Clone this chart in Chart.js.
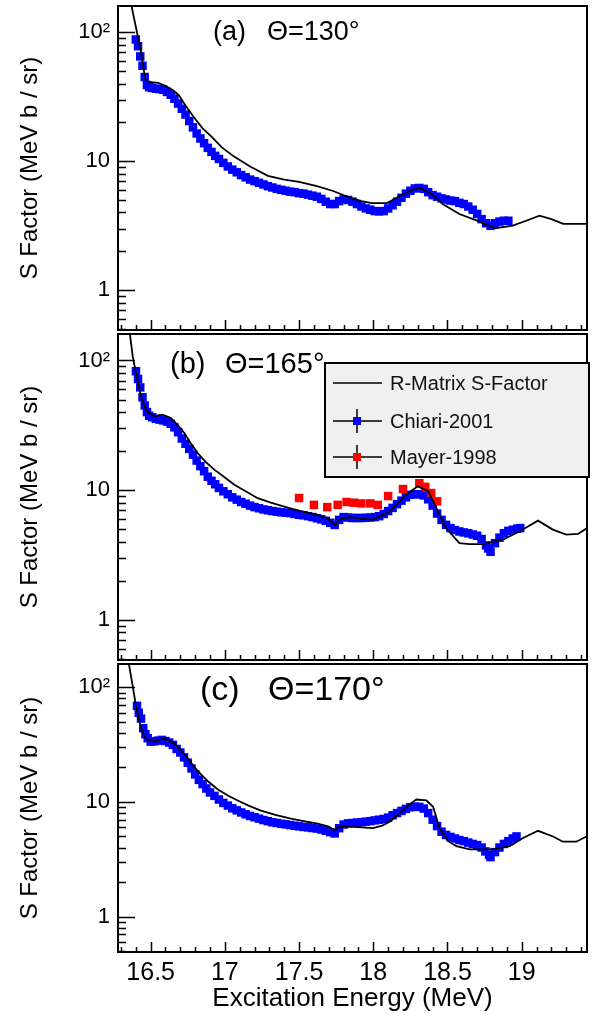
<!DOCTYPE html>
<html>
<head>
<meta charset="utf-8">
<script src="https://cdn.jsdelivr.net/npm/chart.js@4.4.1/dist/chart.umd.min.js"></script>
<style>
  body { margin: 0; background: #fff; width: 600px; height: 1020px; overflow: hidden; position: relative; }
  canvas { position: absolute; left: 0; }
  #pa { top: 0; }
  #pb { top: 328px; }
  #pc { top: 658px; }
</style>
</head>
<body>
<canvas id="pa" width="600" height="336"></canvas>
<canvas id="pb" width="600" height="338"></canvas>
<canvas id="pc" width="600" height="362"></canvas>
<script>
// axis ticks
const energyTicks = [16.5, 17, 17.5, 18, 18.5, 19];
const sTicks = [1, 10, 100];
const panelTags = ['(a)', '(b)', '(c)'];
const panelAngles = ['Θ=130°', 'Θ=165°', 'Θ=170°'];
const seriesNames = ['R-Matrix S-Factor', 'Chiari-2001', 'Mayer-1998'];

// [E (MeV), S (MeV b / sr)]
const rmatA = [[16.35,220],[16.372,158],[16.41,97],[16.435,71],[16.455,50],[16.468,42],[16.50,41],[16.55,40.5],
  [16.60,38.5],[16.65,35.5],[16.69,32.5],[16.73,27.5],[16.79,22],[16.85,18],[16.91,15.5],[16.98,12.8],[17.06,10.9],
  [17.17,9.1],[17.29,7.7],[17.40,7.2],[17.50,6.9],[17.62,6.4],[17.73,5.87],[17.84,5.22],[17.92,4.9],[17.99,4.72],
  [18.09,4.72],[18.18,5.37],[18.25,5.9],[18.31,6.24],[18.38,5.7],[18.47,4.64],[18.58,3.89],[18.70,3.46],[18.82,3.02],
  [18.94,3.16],[19.03,3.45],[19.12,3.78],[19.20,3.55],[19.28,3.26],[19.44,3.26]];
const chiariA = [[16.40,88],[16.415,78],[16.43,65],[16.445,55],[16.46,45],[16.475,39],[16.49,37.5],[16.51,37],
  [16.535,36.5],[16.56,36.3],[16.585,35.8],[16.61,34.5],[16.635,32.8],[16.66,30.5],[16.685,28],[16.71,25.5],
  [16.735,23],[16.76,20.5],[16.785,18.3],[16.81,16.4],[16.835,15],[16.86,13.8],[16.885,12.7],[16.91,11.8],
  [16.935,11.0],[16.96,10.4],[16.99,9.7],[17.02,9.1],[17.05,8.6],[17.08,8.2],[17.11,7.8],[17.14,7.5],[17.17,7.2],
  [17.20,7.0],[17.23,6.8],[17.26,6.6],[17.29,6.4],[17.32,6.25],[17.35,6.1],[17.38,6.0],[17.41,5.9],[17.44,5.8],
  [17.47,5.75],[17.50,5.65],[17.53,5.6],[17.56,5.5],[17.59,5.4],[17.62,5.3],[17.65,5.1],[17.68,4.85],[17.71,4.65],
  [17.74,4.65],[17.77,4.9],[17.80,5.05],[17.83,5.0],[17.86,4.85],[17.89,4.65],[17.92,4.45],[17.95,4.3],[17.98,4.2],
  [18.01,4.1],[18.04,4.08],[18.07,4.1],[18.10,4.3],[18.13,4.55],[18.16,4.85],[18.19,5.2],[18.22,5.6],[18.25,5.9],
  [18.28,6.15],[18.31,6.2],[18.34,6.1],[18.37,5.75],[18.40,5.45],[18.43,5.3],[18.46,5.15],[18.49,5.05],[18.52,4.95],
  [18.55,4.9],[18.58,4.75],[18.61,4.65],[18.64,4.45],[18.67,4.2],[18.70,3.9],[18.73,3.55],[18.76,3.3],[18.79,3.15],
  [18.82,3.3],[18.85,3.4],[18.88,3.45],[18.91,3.45]];

const rmatB = [[16.34,220],[16.356,174],[16.379,108],[16.401,80],[16.435,53],[16.46,44],[16.48,40],[16.525,37.1],
  [16.58,38.2],[16.637,36],[16.68,32],[16.727,27.6],[16.77,23],[16.817,19.3],[16.87,16.5],[16.929,14.4],[17.00,12.5],
  [17.064,11.0],[17.14,9.8],[17.221,8.67],[17.31,8.0],[17.40,7.47],[17.51,6.9],[17.625,6.44],[17.69,6.1],[17.715,5.71],
  [17.745,5.4],[17.77,5.9],[17.80,6.1],[17.85,6.2],[17.93,6.0],[18.00,5.93],[18.11,6.88],[18.223,9.27],[18.30,10.7],
  [18.37,9.8],[18.425,7.3],[18.49,5.1],[18.58,3.91],[18.65,3.84],[18.74,3.84],[18.874,4.15],[18.987,4.82],[19.11,5.82],
  [19.21,4.96],[19.30,4.54],[19.38,4.6],[19.44,5.1]];
const chiariB = [[16.401,82.6],[16.415,72],[16.43,62],[16.445,52],[16.46,45],[16.475,40],[16.49,37.5],[16.51,36.5],
  [16.535,35.5],[16.56,35],[16.585,34.5],[16.61,33.8],[16.635,32.5],[16.66,30.5],[16.685,28],[16.71,25],[16.735,22.8],
  [16.76,20.8],[16.785,18.8],[16.81,16.9],[16.835,15.3],[16.86,14],[16.885,12.7],[16.91,11.8],[16.935,11.1],
  [16.96,10.4],[16.99,9.8],[17.02,9.3],[17.05,8.8],[17.08,8.45],[17.11,8.1],[17.14,7.85],[17.17,7.6],[17.20,7.4],
  [17.23,7.25],[17.26,7.1],[17.29,7.0],[17.32,6.9],[17.35,6.82],[17.38,6.75],[17.41,6.7],[17.44,6.65],[17.47,6.55],
  [17.50,6.45],[17.53,6.4],[17.56,6.3],[17.59,6.2],[17.62,6.07],[17.65,5.95],[17.68,5.8],[17.71,5.6],[17.74,5.39],
  [17.77,5.9],[17.80,6.2],[17.83,6.15],[17.86,6.1],[17.89,6.1],[17.92,6.1],[17.95,6.12],[17.98,6.15],[18.01,6.2],
  [18.04,6.3],[18.07,6.55],[18.10,6.9],[18.13,7.3],[18.16,7.8],[18.19,8.3],[18.22,8.8],[18.25,9.2],[18.28,9.3],
  [18.31,9.3],[18.34,9.1],[18.37,8.5],[18.40,7.6],[18.43,6.6],[18.46,5.9],[18.49,5.4],[18.52,5.1],[18.55,4.92],
  [18.58,4.8],[18.61,4.72],[18.64,4.65],[18.67,4.55],[18.70,4.45],[18.73,4.2],[18.76,3.75],[18.775,3.55],[18.79,3.35],
  [18.82,3.9],[18.85,4.3],[18.88,4.65],[18.91,4.85],[18.94,4.95],[18.97,5.05],[18.99,5.1]];
const mayerB = [[17.50,8.7],[17.60,7.7],[17.69,7.4],[17.76,7.7],[17.82,8.1],[17.87,8.0],[17.92,7.9],[17.98,7.9],
  [18.03,7.7],[18.10,9.0],[18.20,10.2],[18.31,11.3],[18.35,10.6],[18.39,9.5],[18.43,8.2]];

const rmatC = [[16.34,220],[16.356,153],[16.379,103],[16.401,69],[16.435,43.8],[16.46,37],[16.48,34.8],[16.525,33.6],
  [16.592,35.9],[16.66,32.5],[16.70,28.5],[16.749,24.2],[16.79,20.5],[16.839,17.4],[16.89,15],[16.951,12.9],[17.02,11.4],
  [17.086,10.3],[17.16,9.3],[17.243,8.41],[17.34,7.7],[17.445,7.14],[17.53,6.8],[17.625,6.47],[17.70,6.1],[17.738,5.67],
  [17.771,6.1],[17.85,6.1],[17.92,6.0],[17.998,5.9],[18.06,6.2],[18.11,6.73],[18.17,7.8],[18.223,9.06],[18.29,10.5],
  [18.358,10.3],[18.403,9.06],[18.447,5.9],[18.50,4.6],[18.56,4.11],[18.65,3.85],[18.807,3.85],[18.919,4.11],
  [19.009,4.84],[19.11,5.6],[19.211,4.99],[19.278,4.5],[19.368,4.5],[19.436,5.0]];
const chiariC = [[16.408,69],[16.42,60],[16.435,53.4],[16.45,44],[16.465,39],[16.48,36],[16.50,33.6],[16.525,33.8],
  [16.55,34.3],[16.575,34.8],[16.60,34],[16.625,33],[16.65,31.5],[16.675,29],[16.70,27],[16.725,24.5],[16.75,22],
  [16.775,19.6],[16.80,17.4],[16.825,15.6],[16.85,14.3],[16.875,13.1],[16.90,12.1],[16.93,11.3],[16.96,10.5],
  [16.99,9.8],[17.02,9.3],[17.05,8.8],[17.08,8.45],[17.11,8.1],[17.14,7.8],[17.17,7.55],[17.20,7.35],[17.23,7.15],
  [17.26,6.95],[17.29,6.8],[17.32,6.65],[17.35,6.55],[17.38,6.45],[17.41,6.37],[17.44,6.28],[17.47,6.2],[17.50,6.12],
  [17.53,6.05],[17.56,6.0],[17.59,5.92],[17.62,5.86],[17.65,5.75],[17.68,5.6],[17.71,5.45],[17.74,5.31],[17.77,5.9],
  [17.80,6.35],[17.83,6.5],[17.86,6.55],[17.89,6.6],[17.92,6.65],[17.95,6.73],[17.98,6.8],[18.01,6.9],[18.04,7.0],
  [18.07,7.1],[18.10,7.3],[18.13,7.65],[18.16,8.0],[18.19,8.35],[18.22,8.7],[18.25,9.0],[18.28,9.1],[18.31,9.05],
  [18.34,8.75],[18.37,8.0],[18.40,7.0],[18.43,6.15],[18.46,5.5],[18.49,5.15],[18.52,4.95],[18.55,4.8],[18.58,4.65],
  [18.61,4.55],[18.64,4.42],[18.67,4.3],[18.70,4.2],[18.73,4.0],[18.755,3.7],[18.78,3.45],[18.79,3.3],[18.82,3.65],
  [18.85,4.0],[18.88,4.3],[18.91,4.55],[18.94,4.8],[18.965,5.0]];

const FONT = '"Liberation Sans", Arial, sans-serif';
const toXY = arr => arr.map(p => ({x: p[0], y: p[1]}));

// frame, inward ticks, panel tag and (optional) legend
const panelDeco = {
  id: 'panelDeco',
  afterDatasetsDraw(chart, args, opts) {
    const {ctx, chartArea: a, scales: {x, y}} = chart;
    ctx.save();
    ctx.strokeStyle = '#000';
    ctx.lineWidth = 1.5;
    ctx.beginPath();
    for (let d = -1; d <= 2; d++) {
      for (let m = 1; m <= 9; m++) {
        const v = m * Math.pow(10, d);
        if (v < y.min || v > y.max) continue;
        const py = Math.round(y.getPixelForValue(v)) + 0.5;
        ctx.moveTo(a.left, py);
        ctx.lineTo(a.left + (m === 1 ? 17 : 8), py);
      }
    }
    for (let k = Math.ceil(x.min * 10); k <= Math.floor(x.max * 10); k++) {
      const px = Math.round(x.getPixelForValue(k / 10)) + 0.5;
      ctx.moveTo(px, a.bottom);
      ctx.lineTo(px, a.bottom - (k % 5 === 0 ? 10 : 5));
    }
    ctx.stroke();
    ctx.lineWidth = 2;
    ctx.strokeRect(a.left, a.top, a.right - a.left, a.bottom - a.top);

    // panel tag
    ctx.fillStyle = '#000';
    ctx.textBaseline = 'middle';
    ctx.font = opts.tagSize + 'px ' + FONT;
    ctx.fillText(opts.tag, a.left + opts.tagX, a.top + opts.tagY);
    ctx.fillText(opts.angle, a.left + opts.angleX, a.top + opts.tagY);

    if (opts.legend) {
      const L = a.left + 207, T = a.top + 29, W = a.right + 2 - L, H = 114;
      ctx.fillStyle = '#f0f0f0';
      ctx.fillRect(L, T, W, H);
      ctx.lineWidth = 2;
      ctx.strokeRect(L, T, W, H);
      const rows = [20, 58, 94];
      const ds = chart.data.datasets;
      ctx.font = '20px ' + FONT;
      ds.forEach((d, i) => {
        const cy = T + rows[i];
        ctx.strokeStyle = '#000';
        ctx.lineWidth = 1.5;
        ctx.beginPath();
        ctx.moveTo(L + 8, cy); ctx.lineTo(L + 57, cy);
        if (i > 0) { ctx.moveTo(L + 32, cy - 12); ctx.lineTo(L + 32, cy + 12); }
        ctx.stroke();
        if (i > 0) {
          ctx.fillStyle = d.backgroundColor;
          ctx.fillRect(L + 28, cy - 4, 8, 8);
        }
        ctx.fillStyle = '#111';
        ctx.fillText(d.label, L + 65, cy + 1);
      });
    }
    ctx.restore();
  }
};

function lineSet(data) {
  return {label: seriesNames[0], data: toXY(data), showLine: true, borderColor: '#000', borderWidth: 1.8,
    pointRadius: 0, tension: 0, order: 0};
}
function pointSet(data, name, color, ord) {
  return {label: name, data: toXY(data), showLine: false, pointStyle: 'rect', pointRadius: 6,
    backgroundColor: color, borderWidth: 0, order: ord};
}

function makePanel(id, datasets, deco, bottomAxis, padBottom) {
  new Chart(document.getElementById(id), {
    type: 'scatter',
    data: {datasets: datasets},
    options: {
      responsive: false,
      animation: false,
      layout: {padding: {top: 4, right: 13, bottom: padBottom, left: 0}},
      plugins: {legend: {display: false}, tooltip: {enabled: false}, panelDeco: deco},
      scales: {
        x: {
          type: 'linear', min: 16.28, max: 19.44,
          display: bottomAxis,
          afterBuildTicks: s => { s.ticks = energyTicks.map(v => ({value: v})); },
          afterFit: s => {
            if (bottomAxis) s.height = 68;
            s.paddingLeft = 0; s.paddingRight = 0;
          },
          grid: {display: false, drawTicks: false},
          border: {display: false},
          ticks: {padding: 6, color: '#000', font: {family: FONT, size: 25}, callback: v => String(v), maxRotation: 0},
          title: {display: true, text: 'Excitation Energy (MeV)', color: '#000',
            font: {family: FONT, size: 26}, padding: {top: 0, bottom: 6}}
        },
        y: {
          type: 'logarithmic', min: 0.49, max: 160,
          afterBuildTicks: s => { s.ticks = sTicks.map(v => ({value: v})); },
          afterFit: s => { s.width = 118; s.paddingTop = 0; s.paddingBottom = 0; },
          grid: {display: false, drawTicks: false},
          border: {display: false},
          ticks: {padding: 8, color: '#000', font: {family: FONT, size: 22},
            callback: v => v === 100 ? '10²' : String(v)},
          title: {display: true, text: 'S Factor (MeV b / sr)', color: '#000',
            font: {family: FONT, size: 24}, padding: {top: 16, bottom: 0}}
        }
      }
    },
    plugins: [panelDeco]
  });
}

makePanel('pa', [lineSet(rmatA), pointSet(chiariA, seriesNames[1], '#0000ff', 2)],
  {tag: panelTags[0], angle: panelAngles[0], tagSize: 27, tagX: 95, angleX: 149, tagY: 27}, false, 4);
makePanel('pb', [lineSet(rmatB), pointSet(chiariB, seriesNames[1], '#0000ff', 2), pointSet(mayerB, seriesNames[2], '#ff0000', 1)],
  {tag: panelTags[1], angle: panelAngles[1], tagSize: 29, tagX: 52, angleX: 107, tagY: 31, legend: true}, false, 4);
makePanel('pc', [lineSet(rmatC), pointSet(chiariC, seriesNames[1], '#0000ff', 2)],
  {tag: panelTags[2], angle: panelAngles[2], tagSize: 34, tagX: 82, angleX: 150, tagY: 27}, true, 0);
</script>
</body>
</html>
